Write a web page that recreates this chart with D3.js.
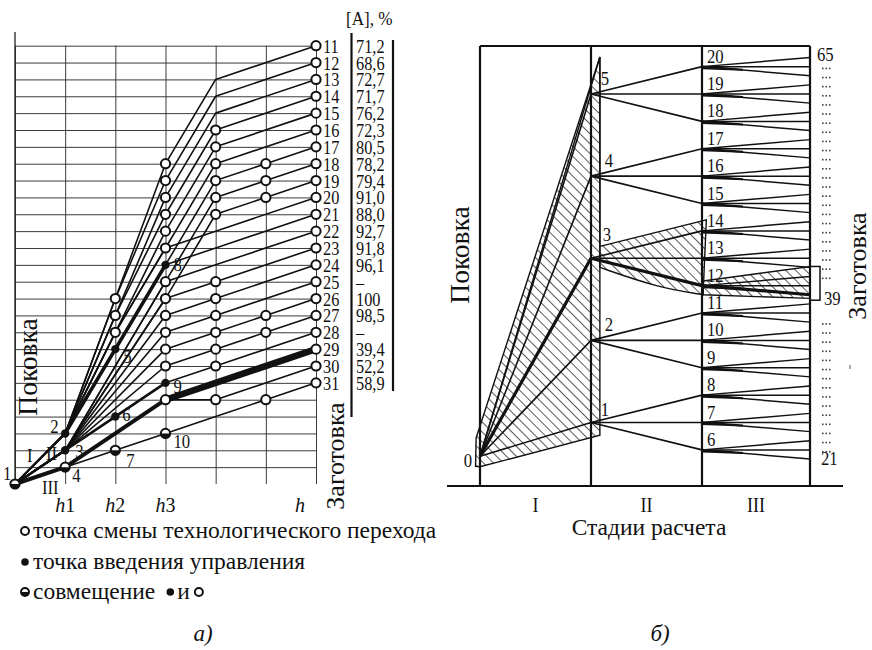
<!DOCTYPE html>
<html><head><meta charset="utf-8">
<script src="https://cdn.jsdelivr.net/npm/d3@7"></script>
<style>
html,body{margin:0;padding:0;background:#fff;}
svg{display:block;}
text{font-family:"Liberation Serif","Times New Roman",serif;fill:#111;}
</style></head><body>
<svg id="chart" width="872" height="650"></svg>
<script>
// ---------- Panel a: forging -> blank routes ----------
const stepLabels = ["h1", "h2", "h3", "h"];
const stepPositions = [1, 2, 3, 6];
const outletIds = [11,12,13,14,15,16,17,18,19,20,21,22,23,24,25,26,27,28,29,30,31];
const outletLevels = [26,25,24,23,22,21,20,19,18,17,16,15,14,13,12,11,10,9,8,7,6];
const outletShares = ["71,2","68,6","72,7","71,7","76,2","72,3","80,5","78,2","79,4","91,0","88,0","92,7","91,8","96,1","–","100","98,5","–","39,4","52,2","58,9"];

// each route: [step, level] vertices from the forging point to its outlet
const routes = [
  [[0,0],[1,3],[2,11],[3,19],[4,24],[6,26]],
  [[0,0],[1,3],[2,11],[3,18],[4,23],[6,25]],
  [[0,0],[1,3],[2,10],[3,17],[4,22],[6,24]],
  [[0,0],[1,3],[2,10],[3,16],[4,21],[6,23]],
  [[0,0],[1,3],[2,9],[3,15],[4,20],[6,22]],
  [[0,0],[1,3],[2,9],[3,14],[4,19],[6,21]],
  [[0,0],[1,3],[2,8],[3,13],[4,18],[5,19],[6,20]],
  [[0,0],[1,2],[3,12],[4,17],[5,18],[6,19]],
  [[0,0],[1,2],[3,11],[4,16],[5,17],[6,18]],
  [[0,0],[1,3],[2,9],[3,14],[4,15],[6,17]],
  [[0,0],[1,3],[2,8],[3,13],[4,14],[6,16]],
  [[0,0],[1,2],[3,12],[4,13],[6,15]],
  [[0,0],[1,2],[3,11],[4,12],[6,14]],
  [[0,0],[1,2],[3,10],[4,11],[6,13]],
  [[0,0],[1,2],[3,9],[4,10],[6,12]],
  [[0,0],[1,2],[3,8],[4,9],[5,10],[6,11]],
  [[0,0],[1,2],[3,7],[4,8],[5,9],[6,10]],
  [[0,0],[1,2],[2,4],[3,6],[4,7],[6,9]],
  [[0,0],[1,1],[2,3],[3,5],[4,6],[6,8]],
  [[0,0],[1,1],[2,3],[3,5],[4,5],[6,7]],
  [[0,0],[1,1],[2,2],[3,3],[4,4],[5,5],[6,6]]
];
// emphasised control paths
const boldMain = [[0,0],[1,1],[2,3],[3,5],[4,6],[6,8]];
const boldUpper = [[1,3],[2,8],[3,13]];
const boldMiddle = [[1,2],[2,4],[3,6]];
const boldStarts = [[[0,0],[1,3]], [[0,0],[1,2]]];

// numbered points: name, step, level, kind
const pointNames = ["1","2","3","4","5","6","7","8","9","10"];
const pointSteps = [0,1,1,1,2,2,2,3,3,3];
const pointLevels = [0,3,2,1,8,4,2,13,6,3];
const pointKinds = ["both","control","control","both","control","control","both","control","control","both"];
// transition points (open circles)
const transitionPoints = [
  [2,11],[2,10],[2,9],
  [3,19],[3,18],[3,17],[3,16],[3,15],[3,14],[3,12],[3,11],[3,10],[3,9],[3,8],[3,7],[3,5],
  [4,21],[4,20],[4,19],[4,18],[4,17],[4,16],[4,12],[4,11],[4,10],[4,9],[4,8],[4,7],[4,5],
  [5,19],[5,18],[5,17],[5,10],[5,9],[5,5]
];
const stageMarks = ["I", "II", "III"];

// ---------- Panel b: calculation stages ----------
const stageNames = ["I", "II", "III"];
const upperNodes = ["1","2","3","4","5"];
const upperLevels = [25,34,43,52,61];
const lowerNodes = ["6","7","8","9","10","11","12","13","14","15","16","17","18","19","20"];
const lowerLevels = [22,25,28,31,34,37,40,43,46,49,52,55,58,61,64];
const blankMarks = ["21","39","65"];
const blankMarkLevels = [21,38.5,65];
const originLevel = 21.3;

const svg = d3.select("#chart");

function txt(g, x, y, s, o = {}) {
  const t = g.append("text")
    .attr("transform", `translate(${x},${y})${o.rot ? ` rotate(${o.rot})` : ""} scale(${o.sx || 1},1)`)
    .attr("font-size", o.size || 18)
    .attr("text-anchor", o.anchor || "start")
    .text(s);
  if (o.italic) t.attr("font-style", "italic");
  return t;
}

// ===== Panel a =====
const xA = d3.scaleLinear().domain([0, 6]).range([15, 316]);
const yA = d3.scaleLinear().domain([0, 26]).range([484, 45.7]);
const gA = svg.append("g");

// grid
gA.append("g").attr("transform", `translate(${xA(0)},0)`)
  .call(d3.axisLeft(yA).tickValues(d3.range(1, 27)).tickSize(-(xA(6) - xA(0))).tickFormat(""))
  .call(g => g.select(".domain").remove())
  .call(g => g.selectAll(".tick line").attr("stroke", "#3a3a3a").attr("stroke-width", 1));
gA.append("g").attr("transform", `translate(0,${yA(0)})`)
  .call(d3.axisBottom(xA).tickValues(d3.range(0, 7)).tickSize(-(yA(0) - yA(26))).tickFormat(""))
  .call(g => g.select(".domain").remove())
  .call(g => g.selectAll(".tick line").attr("stroke", "#3a3a3a").attr("stroke-width", 1));
gA.append("line").attr("x1", xA(0)).attr("x2", xA(0)).attr("y1", 32).attr("y2", yA(0))
  .attr("stroke", "#222").attr("stroke-width", 1.3);

const lineA = d3.line().x(d => xA(d[0])).y(d => yA(d[1]));
gA.append("g").selectAll("path").data(routes).join("path")
  .attr("d", lineA).attr("fill", "none").attr("stroke", "#111").attr("stroke-width", 1.6)
  .attr("stroke-linejoin", "round");
boldStarts.forEach(p => gA.append("path").attr("d", lineA(p)).attr("fill", "none").attr("stroke", "#111").attr("stroke-width", 2.2));
gA.append("path").attr("d", lineA(boldMiddle)).attr("fill", "none").attr("stroke", "#111").attr("stroke-width", 2.6);
gA.append("path").attr("d", lineA(boldUpper)).attr("fill", "none").attr("stroke", "#111").attr("stroke-width", 3.6);
gA.append("path").attr("d", lineA(boldMain.slice(0, 4))).attr("fill", "none").attr("stroke", "#111").attr("stroke-width", 4).attr("stroke-linejoin", "round");
gA.append("path").attr("d", lineA(boldMain.slice(3))).attr("fill", "none").attr("stroke", "#111").attr("stroke-width", 6.5).attr("stroke-linejoin", "round");

// markers
function openMark(g, x, y, r = 4.6) {
  g.append("circle").attr("cx", x).attr("cy", y).attr("r", r).attr("fill", "#fff").attr("stroke", "#111").attr("stroke-width", 2);
}
function controlMark(g, x, y, r = 4.2) {
  g.append("circle").attr("cx", x).attr("cy", y).attr("r", r).attr("fill", "#111");
}
function bothMark(g, x, y, r = 4.6) {
  g.append("circle").attr("cx", x).attr("cy", y).attr("r", r).attr("fill", "#fff").attr("stroke", "#111").attr("stroke-width", 2);
  g.append("path").attr("d", `M${x - r},${y} A${r},${r} 0 0 0 ${x + r},${y} Z`).attr("fill", "#111");
}
const gM = gA.append("g");
transitionPoints.forEach(p => openMark(gM, xA(p[0]), yA(p[1])));
outletLevels.forEach(l => openMark(gM, xA(6), yA(l)));
pointNames.forEach((n, i) => {
  const x = xA(pointSteps[i]), y = yA(pointLevels[i]);
  if (pointKinds[i] === "control") controlMark(gM, x, y);
  else bothMark(gM, x, y);
});

// point labels
const ptLabelShift = {"1":[-12,-4],"2":[-15,0],"3":[10,8],"4":[7,15],"5":[8,14],"6":[7,4],"7":[11,17],"8":[8,6],"9":[8,10],"10":[8,15]};
pointNames.forEach((n, i) => {
  const s = ptLabelShift[n];
  txt(gA, xA(pointSteps[i]) + s[0], yA(pointLevels[i]) + s[1], n, {size: 19, sx: 0.88});
});
txt(gA, 27, 462, stageMarks[0], {size: 19, sx: 0.88});
txt(gA, 46, 460, stageMarks[1], {size: 19, sx: 0.88});
txt(gA, 42, 494, stageMarks[2], {size: 19, sx: 0.88});

// step labels (h1, h2, h3, h)
stepLabels.forEach((s, i) => {
  const x = i === 3 ? xA(stepPositions[i]) - 16 : xA(stepPositions[i]);
  const t = gA.append("text").attr("x", x).attr("y", 512).attr("font-size", 20).attr("text-anchor", "middle");
  t.append("tspan").attr("font-style", "italic").text("h");
  if (s.length > 1) t.append("tspan").text(s.slice(1));
});

// outlet ids and shares
outletIds.forEach((id, i) => {
  const y = yA(outletLevels[i]) + 7;
  txt(gA, 323, y, String(id), {size: 19, sx: 0.86});
  txt(gA, 356, y, outletShares[i], {size: 19, sx: 0.86});
});
txt(gA, 346, 25, "[A], %", {size: 19, sx: 0.9});
gA.append("line").attr("x1", 351.5).attr("x2", 351.5).attr("y1", 33).attr("y2", 417).attr("stroke", "#111").attr("stroke-width", 2.2);
gA.append("line").attr("x1", 393).attr("x2", 393).attr("y1", 40).attr("y2", 391).attr("stroke", "#111").attr("stroke-width", 2.2);

txt(gA, 37, 367, "Поковка", {size: 27.5, rot: -90, anchor: "middle"});
txt(gA, 344, 456, "Заготовка", {size: 26, rot: -90, anchor: "middle"});

// legend
const gL = svg.append("g");
const legendSize = 23.5;
openMark(gL, 25, 531, 4);
txt(gL, 33, 538, "точка смены технологического перехода", {size: legendSize});
controlMark(gL, 25, 562, 3.8);
txt(gL, 33, 569, "точка введения управления", {size: legendSize});
bothMark(gL, 25, 592, 4);
const combo = txt(gL, 33, 599, "совмещение", {size: legendSize});
const comboEnd = 33 + combo.node().getComputedTextLength();
controlMark(gL, comboEnd + 15, 592, 3.8);
const andTxt = txt(gL, comboEnd + 22, 599, "и", {size: legendSize});
openMark(gL, comboEnd + 22 + andTxt.node().getComputedTextLength() + 9, 592, 4);
txt(gL, 203, 641, "а)", {size: 23, anchor: "middle", italic: true});

// ===== Panel b =====
const xB = d3.scaleLinear().domain([0, 1, 2, 3]).range([480, 591, 702, 810]);
const yB = d3.scaleLinear().domain([21, 65]).range([459, 57.5]);
const gB = svg.append("g");
const defs = svg.append("defs");
defs.append("pattern").attr("id", "hatch").attr("patternUnits", "userSpaceOnUse")
  .attr("width", 7).attr("height", 7).attr("patternTransform", "rotate(-45)")
  .append("line").attr("x1", 0).attr("y1", 0).attr("x2", 0).attr("y2", 7)
  .attr("stroke", "#111").attr("stroke-width", 1.4);

const lineB = d3.line().x(d => xB(d[0])).y(d => yB(d[1]));
const curveB = d3.line().x(d => xB(d[0])).y(d => yB(d[1])).curve(d3.curveBasis);
const origin = [0, originLevel];

// hatched fan of stage I
const fanOutline = [[-0.035, 23.3], [1.08, 65.05], [1.08, 23.6], [0, 20.15], [-0.04, 20.2]];
gB.append("path").attr("d", lineB(fanOutline) + "Z").attr("fill", "url(#hatch)")
  .attr("stroke", "#111").attr("stroke-width", 1.4);
// hatched lens between stages II and III
const lensTop = [[1.08, 44.3], [2.04, 47.2]];
const lensBottom = [[2.01, 39.0], [1.6, 39.8], [1.08, 42.0]];
gB.append("path").attr("d", lineB(lensTop) + "L" + curveB(lensBottom).slice(1) + "Z")
  .attr("fill", "url(#hatch)").attr("stroke", "#111").attr("stroke-width", 1.4);
// hatched strip in stage III leading to the boxed outlets
const strip = [[2.01, 40.5], [3, 42.1], [3, 38.6], [2.01, 39.0]];
gB.append("path").attr("d", lineB(strip) + "Z").attr("fill", "url(#hatch)").attr("stroke", "#111").attr("stroke-width", 1.4);
gB.append("rect").attr("x", xB(3)).attr("y", yB(42.1)).attr("width", 10).attr("height", yB(38.4) - yB(42.1))
  .attr("fill", "none").attr("stroke", "#111").attr("stroke-width", 1.5);

// stage I rays
upperLevels.forEach((l, i) => {
  gB.append("path").attr("d", lineB([origin, [1, l]])).attr("stroke", "#111")
    .attr("stroke-width", i === 2 ? 3.2 : 1.6).attr("fill", "none");
});
gB.append("path").attr("d", lineB([origin, [1.08, 65.05]])).attr("stroke", "#111").attr("stroke-width", 1.4).attr("fill", "none");

// stage II fans
upperLevels.forEach(l => {
  [-3, 0, 3].forEach(d => {
    gB.append("path").attr("d", lineB([[1, l], [2, l + d]])).attr("stroke", "#111").attr("stroke-width", 1.6).attr("fill", "none");
  });
});
// stage III fans with dark wedges at the node
lowerLevels.forEach(l => {
  [-1, 0, 1].forEach(d => {
    gB.append("path").attr("d", lineB([[2, l], [3, l + d]])).attr("stroke", "#111").attr("stroke-width", 1.5).attr("fill", "none");
  });
  gB.append("path").attr("d", lineB([[2, l + 0.12], [2.38, l - 0.22], [2.38, l - 0.45], [2, l - 0.28]]) + "Z").attr("fill", "#111");
});
// emphasised path through node 3
gB.append("path").attr("d", lineB([[1, 43], [2, 40], [3, 39]])).attr("stroke", "#111").attr("stroke-width", 3.2).attr("fill", "none");

// frame
const frameW = 2.2;
gB.append("line").attr("x1", xB(0)).attr("x2", xB(3)).attr("y1", 46).attr("y2", 46).attr("stroke", "#111").attr("stroke-width", frameW);
[0, 1, 2, 3].forEach(s => gB.append("line").attr("x1", xB(s)).attr("x2", xB(s)).attr("y1", 46).attr("y2", 486).attr("stroke", "#111").attr("stroke-width", frameW));
gB.append("line").attr("x1", 447).attr("x2", 843).attr("y1", 486).attr("y2", 486).attr("stroke", "#111").attr("stroke-width", frameW);
gB.append("line").attr("x1", xB(1.08)).attr("x2", xB(1.08)).attr("y1", yB(65.05)).attr("y2", yB(44.3)).attr("stroke", "#111").attr("stroke-width", 1.4);

// blank point ticks
d3.range(22, 65).filter(p => p < 37 || p > 40).forEach(p => {
  [0, 3.5, 7].forEach(dx => gB.append("rect").attr("x", 822 + dx).attr("y", yB(p) + 1).attr("width", 1.6).attr("height", 1.6).attr("fill", "#444"));
});

// labels
txt(gB, 472, 467, "0", {size: 19, sx: 0.88, anchor: "end"});
const upperShift = [[14, -7], [18, -9], [16, -17], [18, -9], [14, -9]];
upperNodes.forEach((n, i) => txt(gB, xB(1) + upperShift[i][0], yB(upperLevels[i]) + upperShift[i][1], n, {size: 19, sx: 0.88, anchor: "middle"}));
lowerNodes.forEach((n, i) => txt(gB, xB(2) + 5, yB(lowerLevels[i]) - 4, n, {size: 19, sx: 0.88}));
txt(gB, 821, yB(blankMarkLevels[0]) + 6, blankMarks[0], {size: 19, sx: 0.88});
txt(gB, 824, yB(blankMarkLevels[1]) + 6, blankMarks[1], {size: 19, sx: 0.88});
txt(gB, 817, yB(blankMarkLevels[2]) + 3, blankMarks[2], {size: 19, sx: 0.88});
stageNames.forEach((s, i) => txt(gB, (xB(i) + xB(i + 1)) / 2, 512, s, {size: 20, anchor: "middle", sx: 0.9}));
txt(gB, 649, 535, "Стадии расчета", {size: 23.5, anchor: "middle"});
txt(gB, 469, 255, "Поковка", {size: 27.5, rot: -90, anchor: "middle"});
txt(gB, 866, 266, "Заготовка", {size: 26, rot: -90, anchor: "middle"});
gB.append("line").attr("x1", 850).attr("x2", 850).attr("y1", 365).attr("y2", 369).attr("stroke", "#555").attr("stroke-width", 1);
txt(gB, 660, 641, "б)", {size: 23, anchor: "middle", italic: true});
</script>
</body></html>
